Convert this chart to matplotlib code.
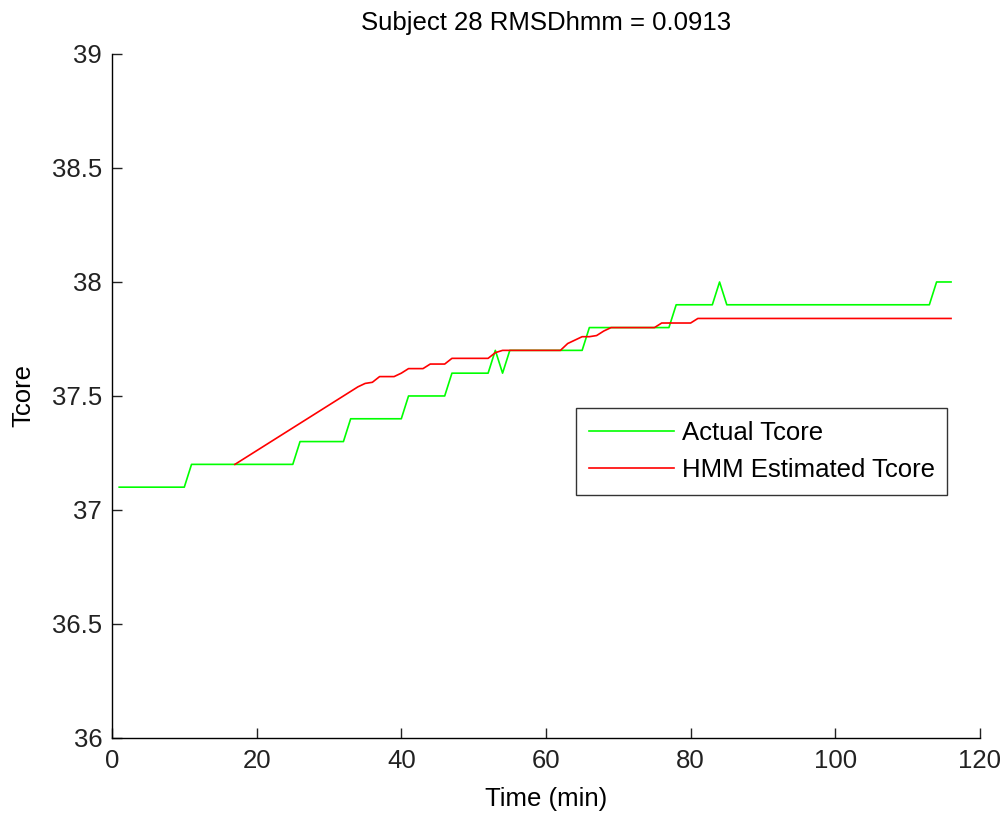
import numpy as np
import matplotlib
matplotlib.use("Agg")
import matplotlib.pyplot as plt

plt.rcParams['font.family'] = ['Liberation Sans', 'DejaVu Sans']

# actual core temperature, one sample per minute (t = 1..116)
t_actual = np.arange(1, 117)
tcore_actual = [
    37.1, 37.1, 37.1, 37.1, 37.1, 37.1, 37.1, 37.1, 37.1, 37.1,
    37.2, 37.2, 37.2, 37.2, 37.2, 37.2, 37.2, 37.2, 37.2, 37.2,
    37.2, 37.2, 37.2, 37.2, 37.2,
    37.3, 37.3, 37.3, 37.3, 37.3, 37.3, 37.3,
    37.4, 37.4, 37.4, 37.4, 37.4, 37.4, 37.4, 37.4,
    37.5, 37.5, 37.5, 37.5, 37.5, 37.5,
    37.6, 37.6, 37.6, 37.6, 37.6, 37.6,
    37.7, 37.6,
    37.7, 37.7, 37.7, 37.7, 37.7, 37.7, 37.7, 37.7, 37.7, 37.7, 37.7,
    37.8, 37.8, 37.8, 37.8, 37.8, 37.8, 37.8, 37.8, 37.8, 37.8, 37.8, 37.8,
    37.9, 37.9, 37.9, 37.9, 37.9, 37.9,
    38.0,
    37.9, 37.9, 37.9, 37.9, 37.9, 37.9, 37.9, 37.9, 37.9, 37.9,
    37.9, 37.9, 37.9, 37.9, 37.9, 37.9, 37.9, 37.9, 37.9, 37.9,
    37.9, 37.9, 37.9, 37.9, 37.9, 37.9, 37.9, 37.9, 37.9,
    38.0, 38.0, 38.0,
]

# HMM estimate starts at t = 17
t_hmm = np.arange(17, 117)
tcore_hmm = [
    37.20, 37.22, 37.24, 37.26, 37.28, 37.30, 37.32, 37.34, 37.36, 37.38,
    37.40, 37.42, 37.44, 37.46, 37.48, 37.50, 37.52, 37.54,
    37.555, 37.56, 37.585, 37.585, 37.585, 37.60, 37.62, 37.62, 37.62, 37.64,
    37.64, 37.64, 37.665, 37.665, 37.665, 37.665, 37.665, 37.665, 37.69, 37.70,
    37.70, 37.70, 37.70, 37.70, 37.70, 37.70, 37.70, 37.70,
    37.73, 37.745, 37.76, 37.76, 37.765, 37.785, 37.80,
    37.80, 37.80, 37.80, 37.80, 37.80, 37.80,
    37.82, 37.82, 37.82, 37.82, 37.82,
    37.84, 37.84, 37.84, 37.84, 37.84, 37.84, 37.84, 37.84, 37.84, 37.84,
    37.84, 37.84, 37.84, 37.84, 37.84, 37.84, 37.84, 37.84, 37.84, 37.84,
    37.84, 37.84, 37.84, 37.84, 37.84, 37.84, 37.84, 37.84, 37.84, 37.84,
    37.84, 37.84, 37.84, 37.84, 37.84, 37.84,
]

xticks = [0, 20, 40, 60, 80, 100, 120]
yticks = [36, 36.5, 37, 37.5, 38, 38.5, 39]
ytick_labels = ["36", "36.5", "37", "37.5", "38", "38.5", "39"]

fs = 18.5

fig = plt.figure(figsize=(10.05, 8.13), dpi=100)
ax = fig.add_axes([0.1114, 0.0923, 0.8637, 0.8413])

ax.plot(t_actual, tcore_actual, color=(0, 1, 0), lw=1.2, label="Actual Tcore")
ax.plot(t_hmm, tcore_hmm, color=(1, 0, 0), lw=1.2, label="HMM Estimated Tcore")

ax.set_xlim(0, 120)
ax.set_ylim(36, 39)
ax.set_xticks(xticks)
ax.set_yticks(yticks)
ax.set_yticklabels(ytick_labels)
ax.spines['top'].set_visible(False)
ax.spines['right'].set_visible(False)
for s in ['left', 'bottom']:
    ax.spines[s].set_linewidth(1.0)
ax.tick_params(direction='in', length=7, width=1.0, labelsize=fs, pad=7,
               colors='#222222')
ax.tick_params(axis='x', pad=8)

ax.set_title("Subject 28 RMSDhmm = 0.0913", fontsize=fs, pad=17)
ax.set_xlabel("Time (min)", fontsize=fs, labelpad=10)
ax.set_ylabel("Tcore", fontsize=fs, labelpad=12)

leg = ax.legend(loc='center', bbox_to_anchor=(0.7485, 0.4185), fontsize=fs,
                frameon=True, fancybox=False, handlelength=3.3,
                handletextpad=0.31, borderpad=0.5, labelspacing=0.5)
leg.get_frame().set_edgecolor('black')
leg.get_frame().set_linewidth(1.0)

fig.savefig("out.png", dpi=100)
